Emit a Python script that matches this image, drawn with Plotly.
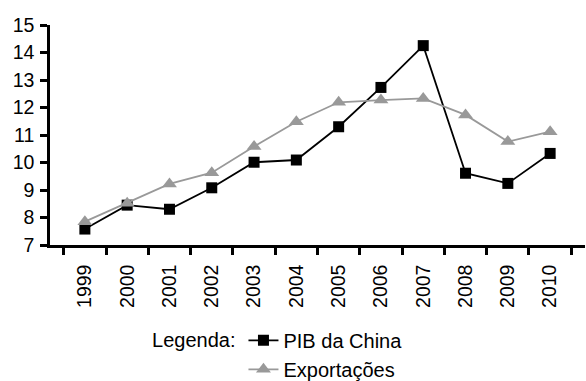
import plotly.graph_objects as go

anos = ["1999", "2000", "2001", "2002", "2003", "2004",
        "2005", "2006", "2007", "2008", "2009", "2010"]
pib_china = [7.58, 8.45, 8.30, 9.08, 10.01, 10.09,
             11.30, 12.73, 14.25, 9.61, 9.24, 10.33]
exportacoes = [7.85, 8.52, 9.22, 9.63, 10.58, 11.48,
               12.19, 12.27, 12.33, 11.73, 10.76, 11.12]

FONT = "Liberation Sans, Arial, sans-serif"
GRAY = "#999999"

fig = go.Figure()
fig.add_trace(go.Scatter(
    x=anos, y=pib_china, name="PIB da China", mode="lines+markers",
    legendgroup="pib",
    line=dict(color="black", width=1.8),
    marker=dict(symbol="square", size=11, color="black"),
))
fig.add_trace(go.Scatter(
    x=anos, y=exportacoes, name="Exportações", mode="lines+markers",
    legendgroup="exp",
    line=dict(color=GRAY, width=1.8),
    marker=dict(symbol="triangle-up", size=13, color=GRAY),
))

fig.update_layout(
    width=586, height=381,
    margin=dict(l=50, r=1, t=25, b=136, autoexpand=False),
    paper_bgcolor="white", plot_bgcolor="white",
    font=dict(family=FONT, size=19.5, color="black"),
    showlegend=True,
    legend=dict(
        title=dict(text="Legenda:", side="left", font=dict(size=20)),
        orientation="v", x=0.187, xanchor="left",
        yref="container", y=0.158, yanchor="top",
        font=dict(size=20), tracegroupgap=0,
        bgcolor="rgba(0,0,0,0)",
    ),
    xaxis=dict(
        type="category", tickson="boundaries", ticks="outside", ticklen=7,
        tickwidth=2.5, tickcolor="black", showline=True, linecolor="black",
        linewidth=2.5, showgrid=False, tickangle=-90, zeroline=False,
        ticklabelstandoff=9, automargin=False,
    ),
    yaxis=dict(
        range=[7, 15], dtick=1, ticks="outside", ticklen=7, tickwidth=2.5,
        tickcolor="black", showline=True, linecolor="black", linewidth=2.5,
        showgrid=False, zeroline=False, ticklabelstandoff=2, automargin=False,
    ),
)

fig.write_html("out.html")
